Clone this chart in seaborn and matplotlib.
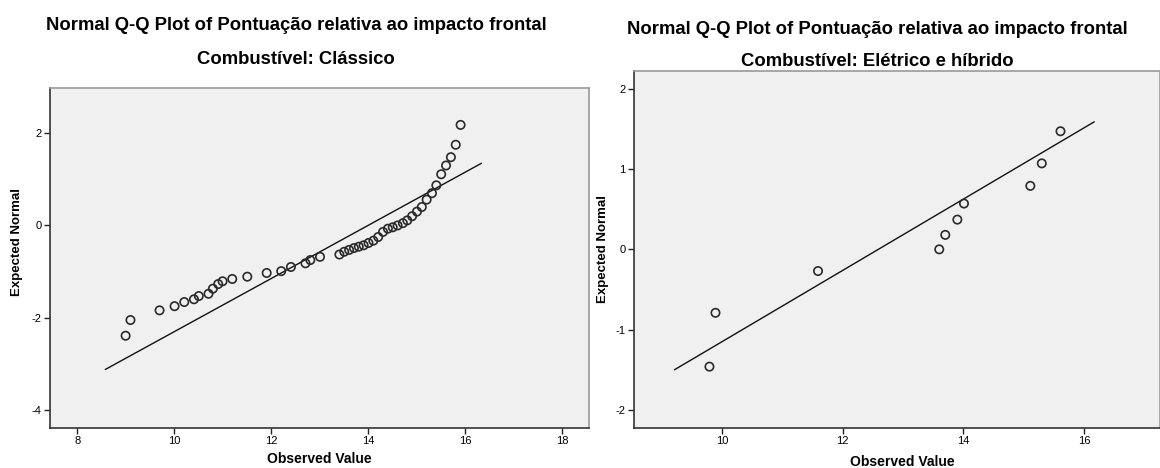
import numpy as np
import pandas as pd
import matplotlib
matplotlib.use('Agg')
import matplotlib.pyplot as plt
import seaborn as sns

# dados
classico_obs = [9.00, 9.10, 9.70, 10.01, 10.21, 10.41, 10.51, 10.71, 10.80, 10.91,
                11.00, 11.20, 11.51, 11.91, 12.21, 12.41, 12.71, 12.81, 13.01, 13.41,
                13.51, 13.61, 13.71, 13.81, 13.91, 14.01, 14.11, 14.21, 14.31, 14.41,
                14.51, 14.61, 14.72, 14.81, 14.91, 15.01, 15.11, 15.21, 15.32, 15.41,
                15.51, 15.61, 15.71, 15.81, 15.91]
classico_exp = [-2.39, -2.05, -1.84, -1.75, -1.66, -1.60, -1.53, -1.48, -1.37, -1.27,
                -1.21, -1.16, -1.11, -1.03, -0.99, -0.90, -0.82, -0.75, -0.68, -0.63,
                -0.57, -0.53, -0.49, -0.46, -0.43, -0.38, -0.33, -0.25, -0.14, -0.07,
                -0.04, 0.00, 0.05, 0.11, 0.20, 0.30, 0.40, 0.56, 0.70, 0.87,
                1.11, 1.30, 1.48, 1.75, 2.18]
classico_media = 14.0
classico_dp = 1.736
classico_linha_x = [8.58, 16.34]

eletrico_obs = [9.79, 9.89, 11.59, 13.60, 13.70, 13.90, 14.01, 15.11, 15.30, 15.61]
eletrico_exp = [-1.46, -0.79, -0.27, 0.00, 0.18, 0.37, 0.57, 0.79, 1.07, 1.47]
eletrico_media = 12.59
eletrico_dp = 2.255
eletrico_linha_x = [9.21, 16.17]

titulo = 'Normal Q-Q Plot of Pontuação relativa ao impacto frontal'
sub_esq = 'Combustível: Clássico'
sub_dir = 'Combustível: Elétrico e híbrido'

sns.set_style('ticks')
plt.rcParams['font.family'] = ['Liberation Sans', 'DejaVu Sans']
plt.rcParams['axes.unicode_minus'] = False
plt.rcParams['text.color'] = 'black'
plt.rcParams['axes.labelcolor'] = 'black'
plt.rcParams['xtick.color'] = 'black'
plt.rcParams['ytick.color'] = 'black'

fig = plt.figure(figsize=(11.6, 4.68), dpi=100)
ax1 = fig.add_axes([0.0431, 0.0855, 0.4647, 0.7265])
ax2 = fig.add_axes([0.5466, 0.0861, 0.4534, 0.7622])


def qq(ax, obs, exp, media, dp, linha_x, xlim, ylim, xticks, yticks, xl_pos, yl_pos):
    ax.set_facecolor('#f0f0f0')
    df = pd.DataFrame({'obs': obs, 'exp': exp})
    lx = np.array(linha_x)
    linha = pd.DataFrame({'x': lx, 'y': (lx - media) / dp})
    sns.lineplot(data=linha, x='x', y='y', ax=ax, color='#111111', lw=1.0)
    sns.scatterplot(data=df, x='obs', y='exp', ax=ax, marker='o', s=36,
                    facecolors='none', edgecolor='#2a2a2a', linewidth=1.2, zorder=3)
    ax.set_xlim(*xlim)
    ax.set_ylim(*ylim)
    ax.set_xticks(xticks)
    ax.set_yticks(yticks)
    ax.tick_params(labelsize=8, length=4, width=1, color='#222222', pad=2)
    ax.set_xlabel('Observed Value', fontsize=10, fontweight='bold')
    ax.set_ylabel('Expected Normal', fontsize=9.5, fontweight='bold')
    ax.xaxis.set_label_coords(*xl_pos)
    ax.yaxis.set_label_coords(*yl_pos)
    for s in ['left', 'bottom']:
        ax.spines[s].set_color('#333333')
        ax.spines[s].set_linewidth(1.2)
    for s in ['top', 'right']:
        ax.spines[s].set_visible(True)
        ax.spines[s].set_color('#999999')
        ax.spines[s].set_linewidth(1.2)


qq(ax1, classico_obs, classico_exp, classico_media, classico_dp, classico_linha_x,
   (7.44, 18.56), (-4.39, 2.98), [8, 10, 12, 14, 16, 18], [-4, -2, 0, 2],
   (0.50, -0.072), (-0.05, 0.547))
qq(ax2, eletrico_obs, eletrico_exp, eletrico_media, eletrico_dp, eletrico_linha_x,
   (8.54, 17.26), (-2.22, 2.22), [10, 12, 14, 16], [-2, -1, 0, 1, 2],
   (0.51, -0.077), (-0.048, 0.5))

fig.text(0.2552, 1 - 25 / 468, titulo, ha='center', va='center', fontsize=13.3, fontweight='bold')
fig.text(0.2552, 1 - 59 / 468, sub_esq, ha='center', va='center', fontsize=13.3, fontweight='bold')
fig.text(0.756, 1 - 29 / 468, titulo, ha='center', va='center', fontsize=13.3, fontweight='bold')
fig.text(0.756, 1 - 61 / 468, sub_dir, ha='center', va='center', fontsize=13.3, fontweight='bold')

fig.savefig('out.png', dpi=100, facecolor='white')
